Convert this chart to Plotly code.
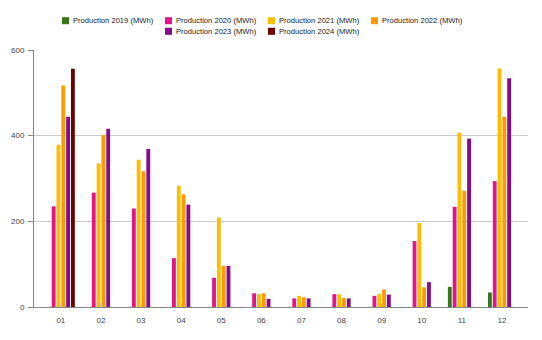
import plotly.graph_objects as go

months = ["01", "02", "03", "04", "05", "06", "07", "08", "09", "10", "11", "12"]
p2019 = [None, None, None, None, None, None, None, None, None, None, 47, 34]
p2020 = [235, 267, 230, 114, 68, 32, 20, 30, 26, 154, 234, 294]
p2021 = [379, 335, 344, 283, 209, 30, 26, 30, 30, 196, 407, 557]
p2022 = [517, 401, 317, 263, 96, 32, 23, 21, 41, 46, 271, 444]
p2023 = [444, 416, 369, 239, 96, 19, 20, 20, 29, 58, 393, 534]
p2024 = [556, None, None, None, None, None, None, None, None, None, None, None]

names = ["Production 2019 (MWh)", "Production 2020 (MWh)", "Production 2021 (MWh)",
         "Production 2022 (MWh)", "Production 2023 (MWh)", "Production 2024 (MWh)"]
values = [p2019, p2020, p2021, p2022, p2023, p2024]
colors = ["#38761d", "#e3138b", "#fbbc04", "#ff9900", "#880a8c", "#6d0000"]

W, H = 542, 340
ML, MR, MT, MB = 34, 14, 50, 33
PW, PH = W - ML - MR, H - MT - MB
FAM = "Liberation Sans, Arial, sans-serif"

fig = go.Figure()
for name, vals, color in zip(names, values, colors):
    fig.add_trace(go.Bar(x=months, y=vals, name=name, marker_color=color,
                         marker_line_width=0, showlegend=False))

# custom legend (Google-Charts style, rows centered)
legend_rows = [[0, 1, 2, 3], [4, 5]]
row_y = [20.7, 31.3]
entry_w = 103
row_x0 = [62, 165]
sq = 7
shapes, annotations = [], []
def px_x(p):
    return (p - ML) / PW
def px_y(p):
    return (H - MB - p) / PH
for r, row in enumerate(legend_rows):
    for k, idx in enumerate(row):
        x0 = row_x0[r] + k * entry_w
        cy = row_y[r]
        shapes.append(dict(type="rect", xref="paper", yref="paper",
                           x0=px_x(x0), x1=px_x(x0 + sq),
                           y0=px_y(cy + sq / 2), y1=px_y(cy - sq / 2),
                           fillcolor=colors[idx], line=dict(width=0)))
        annotations.append(dict(xref="paper", yref="paper", x=px_x(x0 + sq + 2),
                                y=px_y(cy), xanchor="left", yanchor="middle",
                                text=names[idx], showarrow=False,
                                font=dict(family=FAM, size=7.6, color="#222222")))

tickfont = dict(family=FAM, size=8, color="#444444")
fig.update_layout(
    width=W, height=H,
    margin=dict(l=ML, r=MR, t=MT, b=MB, autoexpand=False),
    paper_bgcolor="white", plot_bgcolor="white",
    font=dict(family=FAM, size=8, color="#222222"),
    barmode="group", bargap=0.28, bargroupgap=0.2,
    showlegend=False,
    shapes=shapes, annotations=annotations,
    xaxis=dict(type="category", range=[-0.67, 11.65], showgrid=False,
               showline=True, linecolor="#888888", linewidth=1,
               ticks="inside", ticklen=4, tickcolor="#cccccc",
               ticklabelstandoff=5, tickfont=tickfont),
    yaxis=dict(range=[0, 600], tickvals=[0, 200, 400, 600], showgrid=True,
               gridcolor="#cccccc", gridwidth=1, zeroline=False,
               showline=True, linecolor="#888888", linewidth=1,
               ticks="outside", ticklen=5, tickcolor="#888888",
               ticklabelstandoff=2, tickfont=tickfont),
)

fig.write_html("out.html")
